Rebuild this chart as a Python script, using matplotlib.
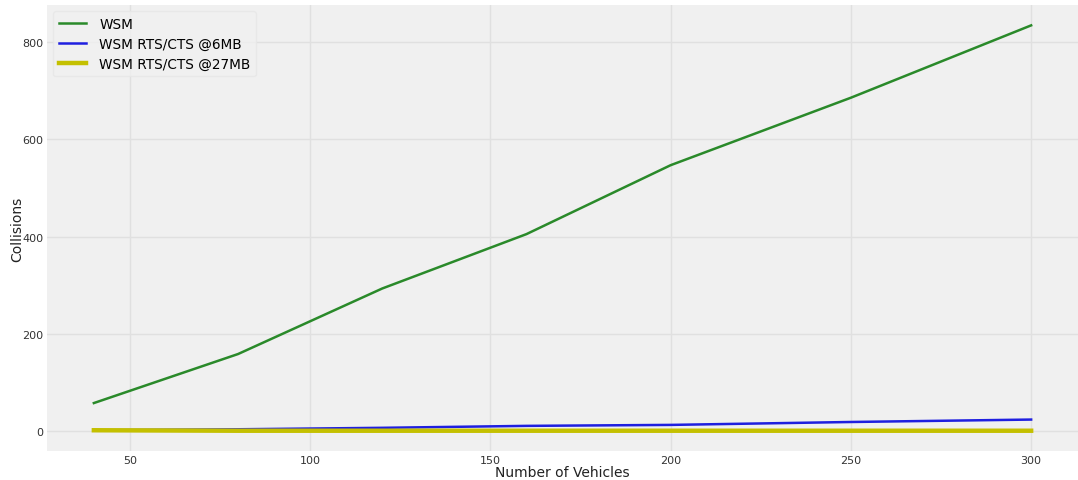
import matplotlib
matplotlib.use("Agg")
import matplotlib.pyplot as plt

vehicles = [40, 80, 120, 160, 200, 250, 300]
wsm = [57, 158, 293, 405, 547, 686, 835]
wsm_rts_6mb = [1, 3, 6, 10, 12, 18, 23]
wsm_rts_27mb = [1, 0, 0, 0, 0, 0, 0]

fig = plt.figure(figsize=(10.78, 4.81), dpi=100, facecolor="white")
ax = fig.add_axes([0.0436, 0.0603, 0.9564, 0.927])
ax.set_facecolor("#f0f0f0")
for s in ax.spines.values():
    s.set_visible(False)
ax.grid(True, color="#e0e0e0", linewidth=1.0)
ax.set_axisbelow(True)

ax.plot(vehicles, wsm, color="#2a8a2a", linewidth=1.8, label="WSM")
ax.plot(vehicles, wsm_rts_6mb, color="#1f1fe0", linewidth=1.8, label="WSM RTS/CTS @6MB")
ax.plot(vehicles, wsm_rts_27mb, color="#c4c000", linewidth=3.2, label="WSM RTS/CTS @27MB")

ax.set_xticks([50, 100, 150, 200, 250, 300])
ax.set_yticks([0, 200, 400, 600, 800])
ax.tick_params(axis="both", labelsize=8, colors="#333333", length=0)
ax.tick_params(axis="x", pad=3)
ax.tick_params(axis="y", pad=2.5)
ax.set_xlabel("Number of Vehicles", fontsize=10, color="#222222", va="center")
ax.set_ylabel("Collisions", fontsize=10, color="#222222", va="center")
ax.xaxis.set_label_coords(0.5, -0.046)
ax.yaxis.set_label_coords(-0.029, 0.5)

leg = ax.legend(loc="upper left", fontsize=9.8, frameon=True, handlelength=2.0,
                handletextpad=1.0, labelspacing=0.45, borderaxespad=0.45)
leg.get_frame().set_facecolor("#f0f0f0")
leg.get_frame().set_edgecolor("#e6e6e6")

fig.savefig("out.png", dpi=100, facecolor="white")
